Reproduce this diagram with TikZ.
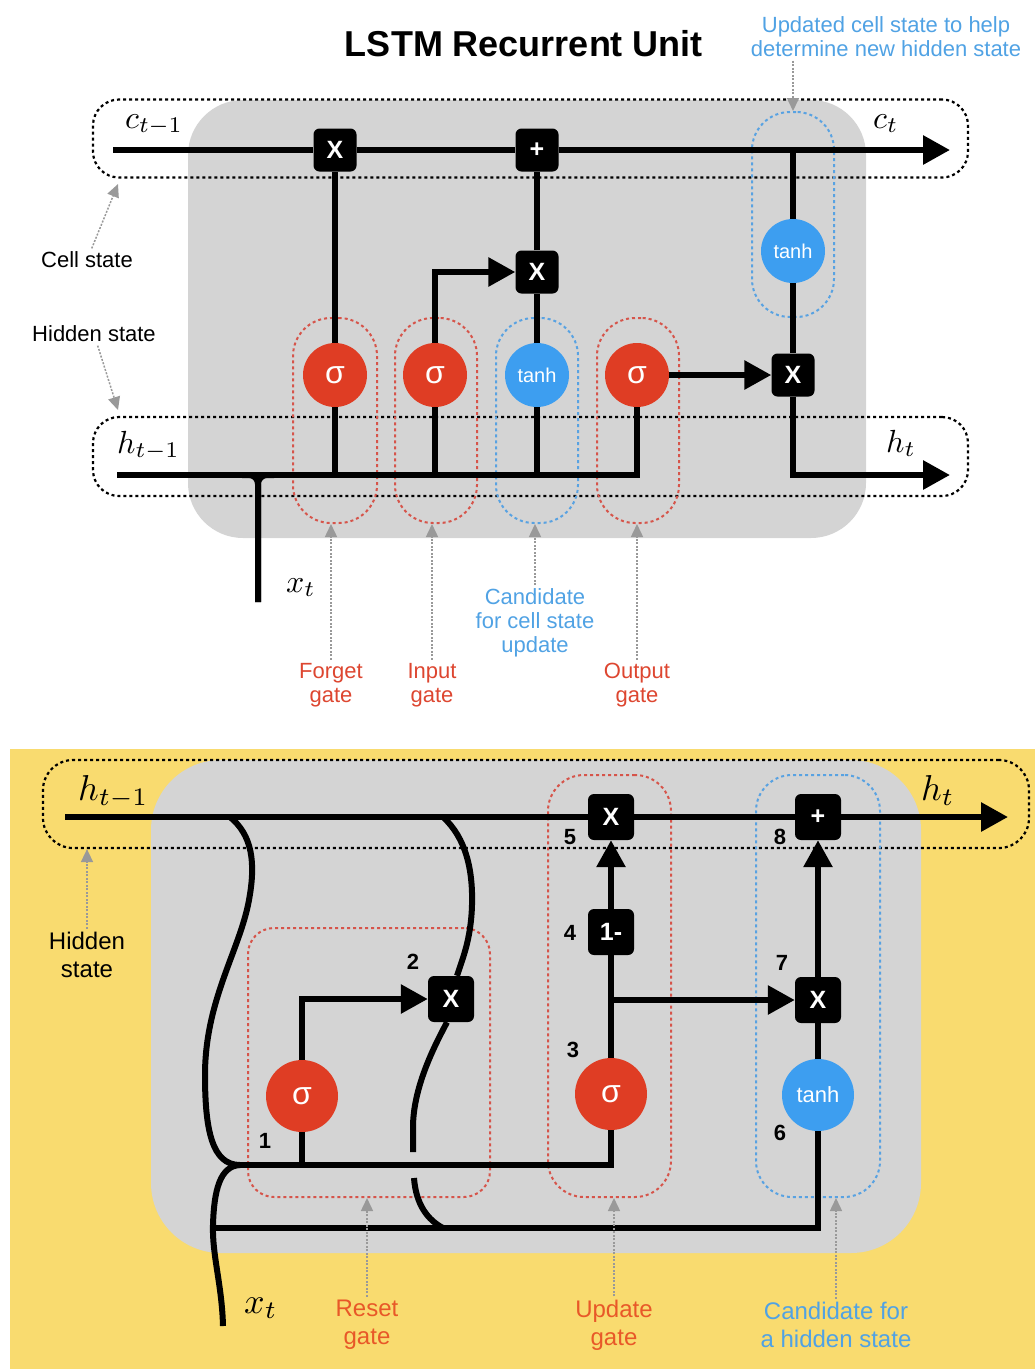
\documentclass[tikz,border=0pt]{standalone}
\usepackage{amsmath}
\usepackage{fontspec}
\newfontfamily\labfont{Liberation Sans}
\usetikzlibrary{shapes,arrows.meta,positioning}

\definecolor{unitgray}{RGB}{212,212,212}
\definecolor{gruyellow}{RGB}{249,219,111}
\definecolor{gatered}{RGB}{223,61,36}
\definecolor{cellblue}{RGB}{61,158,240}
\definecolor{notered}{RGB}{221,70,48}
\definecolor{noteorange}{RGB}{232,88,40}
\definecolor{noteblue}{RGB}{80,162,228}
\definecolor{boxred}{RGB}{214,84,74}
\definecolor{boxblue}{RGB}{88,162,226}

\newcommand{\bigmath}[2]{\scalebox{#1}{$#2$}}

\tikzset{
  wire/.style={line width=6pt},
  flow/.style={line width=6pt,-{Triangle[length=27pt,width=28pt]}},
  opbox/.style={fill=black,rounded corners=6pt,minimum size=43pt,inner sep=0pt,
    text=white,font=\labfont\bfseries\fontsize{25}{25}\selectfont},
  sig/.style={circle,fill=gatered,minimum size=64pt,inner sep=0pt,
    text=white,font=\labfont\fontsize{32}{32}\selectfont},
  tanhnode/.style={circle,fill=cellblue,minimum size=64pt,inner sep=0pt,
    text=white,font=\labfont\fontsize{20}{20}\selectfont},
  statebox/.style={draw,line width=2.2pt,dash pattern=on 3pt off 3pt,
    rounded corners=26pt,inner sep=0pt},
  gatebox/.style={line width=2pt,dash pattern=on 3pt off 3pt,inner sep=0pt},
  pointer/.style={draw=gray!80,line width=1.5pt,dash pattern=on 2pt off 1.5pt,
    -{Triangle[length=13pt,width=12pt]}},
  notelabel/.style={align=center,font=\labfont\fontsize{22}{24}\selectfont},
  grulabel/.style={align=center,font=\labfont\fontsize{24}{28}\selectfont},
  stepno/.style={font=\labfont\bfseries\fontsize{22}{22}\selectfont},
  sym/.style={inner sep=0pt,anchor=base west},
}

\begin{document}
\begin{tikzpicture}[x=1pt,y=-1pt]
  \useasboundingbox (0,0) rectangle (1035,1369);

  % LSTM unit
  \node[font=\labfont\bfseries\fontsize{36}{36}\selectfont] (lstmtitle) at (524,44) {LSTM Recurrent Unit};
  \fill[unitgray,rounded corners=55pt] (188,100) rectangle (866,538);

  % state bands and gate groups
  \node[statebox,minimum width=875pt,minimum height=78pt] (cbox) at (530.5,138.5) {};
  \node[statebox,minimum width=875pt,minimum height=79pt] (hbox) at (530.5,456.5) {};
  \node[gatebox,draw=boxred,rounded corners=38pt,minimum width=84pt,minimum height=205pt] (fgbox) at (335,420.5) {};
  \node[gatebox,draw=boxred,rounded corners=38pt,minimum width=82pt,minimum height=205pt] (igbox) at (436,420.5) {};
  \node[gatebox,draw=boxblue,rounded corners=38pt,minimum width=82pt,minimum height=205pt] (cgbox) at (537,420.5) {};
  \node[gatebox,draw=boxred,rounded corners=38pt,minimum width=82pt,minimum height=205pt] (ogbox) at (638,420.5) {};
  \node[gatebox,draw=boxblue,rounded corners=38pt,minimum width=82pt,minimum height=205pt] (ucbox) at (793,214.5) {};

  % operations
  \node[opbox] (fx) at (335,150) {X};
  \node[opbox] (cadd) at (537,150) {+};
  \node[opbox] (ix) at (537,272) {X};
  \node[opbox] (ox) at (793,375) {X};
  \node[sig] (fs) at (335,375) {σ};
  \node[sig] (is) at (435,375) {σ};
  \node[tanhnode] (ct) at (537,375) {tanh};
  \node[sig] (os) at (637,375) {σ};
  \node[tanhnode] (ht) at (793,251) {tanh};

  \coordinate (cin) at (113,150);
  \coordinate (cout) at (950,150);
  \coordinate (ctap) at (793,150);
  \coordinate (hin) at (117,475);
  \coordinate (hout) at (950,475);
  \coordinate (xin) at (258,602);
  \coordinate (xl) at (242,475);
  \coordinate (xr) at (274,475);

  % wires
  \draw[wire] (cin) -- (fx);
  \draw[wire] (fx) -- (cadd);
  \draw[flow] (cadd) -- (cout);
  \draw[wire] (fs) -- (fx);
  \draw[flow] (is) |- (ix);
  \draw[wire] (ct) -- (ix);
  \draw[wire] (ix) -- (cadd);
  \draw[wire] (ctap) -- (ht);
  \draw[wire] (ht) -- (ox);
  \draw[flow] (os) -- (ox);
  \draw[flow] (ox) |- (hout);
  \draw[wire] (hin) -| (os);
  \draw[wire] (fs) -- (fs |- hin);
  \draw[wire] (is) -- (is |- hin);
  \draw[wire] (ct) -- (ct |- hin);
  \draw[wire,rounded corners=9pt] (xl) -| (xin);
  \draw[wire,rounded corners=9pt] (xr) -| (xin);

  \node[sym] (cprev) at (125,128) {\bigmath{3.2}{c_{t-1}}};
  \node[sym] (cnext) at (873,128) {\bigmath{3.2}{c_t}};
  \node[sym] (hprev) at (117,453) {\bigmath{3.2}{h_{t-1}}};
  \node[sym] (hnext) at (886,452) {\bigmath{3.2}{h_t}};
  \node[sym] (xlab) at (286,592) {\bigmath{3.2}{x_t}};

  % annotations
  \node[notelabel] (cslab) at (87,260) {Cell state};
  \node[notelabel] (hslab) at (94,334) {Hidden state};
  \coordinate (csto) at (118,184);
  \coordinate (hsto) at (118,410);
  \draw[pointer] (cslab) -- (csto);
  \draw[pointer] (hslab) -- (hsto);
  \node[notelabel,text=noteblue] (uplab) at (886,37) {Updated cell state to help\\determine new hidden state};
  \draw[pointer] (uplab.south -| ucbox) -- (ucbox.north);
  \node[notelabel,text=notered] (fglab) at (331,685) {Forget\\gate};
  \node[notelabel,text=notered] (iglab) at (432,685) {Input\\gate};
  \node[notelabel,text=noteblue] (cglab) at (535,623) {Candidate\\for cell state\\update};
  \node[notelabel,text=notered] (oglab) at (637,685) {Output\\gate};
  \draw[pointer] (fglab.north) -- (fglab.north |- fgbox.south);
  \draw[pointer] (iglab.north) -- (iglab.north |- igbox.south);
  \draw[pointer] (cglab.north) -- (cglab.north |- cgbox.south);
  \draw[pointer] (oglab.north) -- (oglab.north |- ogbox.south);

  % GRU unit
  \fill[gruyellow] (10,749) rectangle (1035,1369);
  \fill[unitgray,rounded corners=70pt] (151,760) rectangle (921,1253);

  \node[statebox,rounded corners=30pt,minimum width=986pt,minimum height=88pt] (gbox) at (536,804) {};
  \node[gatebox,draw=boxred,rounded corners=26pt,minimum width=242pt,minimum height=269pt] (rgbox) at (369,1062.5) {};
  \node[gatebox,draw=boxred,rounded corners=36pt,minimum width=123pt,minimum height=422pt] (ugbox) at (609.5,986) {};
  \node[gatebox,draw=boxblue,rounded corners=36pt,minimum width=124pt,minimum height=422pt] (hcbox) at (818,986) {};

  \node[opbox,minimum size=46pt] (rx) at (451,999) {X};
  \node[opbox,minimum size=46pt] (ux) at (611,817) {X};
  \node[opbox,minimum size=46pt] (om) at (611,932) {1-};
  \node[opbox,minimum size=46pt] (cx) at (818,1000) {X};
  \node[opbox,minimum size=46pt] (hadd) at (818,817) {+};
  \node[sig,minimum size=72pt] (rs) at (302,1096) {σ};
  \node[sig,minimum size=72pt] (us) at (611,1094) {σ};
  \node[tanhnode,minimum size=72pt,font=\labfont\fontsize{22}{22}\selectfont] (hc) at (818,1095) {tanh};

  \coordinate (gin) at (65,817);
  \coordinate (gout) at (1008,817);
  \coordinate (rj) at (240,1165);
  \coordinate (bj) at (214,1228);
  \coordinate (gx) at (223,1326);
  \coordinate (ta) at (230,817);
  \coordinate (tb) at (443,817);
  \coordinate (hop) at (414,1178);
  \coordinate (bb) at (443,1228);

  \draw[wire] (gin) -- (ux);
  \draw[wire] (ux) -- (hadd);
  \draw[flow] (hadd) -- (gout);
  \draw[wire] (ta) .. controls (252,835) and (256,862) .. (249,900)
    .. controls (240,950) and (205,1000) .. (205,1075)
    .. controls (205,1130) and (212,1165) .. (rj);
  \draw[wire] (gx) .. controls (222,1285) and (212,1255) .. (213,1225)
    .. controls (214,1190) and (220,1166) .. (rj);
  \draw[wire] (bj) -| (hc);
  \draw[wire] (rj) -| (us);
  \draw[wire] (rs) -- (rs |- rj);
  \draw[flow] (rs) |- (rx);
  \draw[wire] (tb) .. controls (466,838) and (473,870) .. (472,905)
    .. controls (471,940) and (462,960) .. ([xshift=6pt]rx.north);
  \draw[wire] ([xshift=-4pt]rx.south) .. controls (435,1045) and (414,1085) .. (413,1125) -- (413,1152);
  \draw[wire] (hop) .. controls (416,1205) and (428,1220) .. (bb);
  \draw[wire] (us) -- (om);
  \draw[flow] (om) -- (ux);
  \draw[flow] (us |- cx) -- (cx);
  \draw[wire] (hc) -- (cx);
  \draw[flow] (cx) -- (hadd);

  \node[sym] (ghprev) at (78,800) {\bigmath{3.6}{h_{t-1}}};
  \node[sym] (ghnext) at (921,800) {\bigmath{3.6}{h_t}};
  \node[sym] (gxlab) at (244,1313) {\bigmath{3.6}{x_t}};

  % step numbers
  \node[stepno] (n1) at (265,1141) {1};
  \node[stepno] (n2) at (413,962) {2};
  \node[stepno] (n3) at (573,1050) {3};
  \node[stepno] (n4) at (570,933) {4};
  \node[stepno] (n5) at (570,837) {5};
  \node[stepno] (n6) at (780,1133) {6};
  \node[stepno] (n7) at (782,963) {7};
  \node[stepno] (n8) at (780,837) {8};

  \node[grulabel] (ghslab) at (87,955) {Hidden\\state};
  \draw[pointer] (ghslab) -- (ghslab |- gbox.south);
  \node[grulabel,text=noteorange] (rglab) at (367,1325) {Reset\\gate};
  \node[grulabel,text=noteorange] (uglab) at (614,1325) {Update\\gate};
  \node[grulabel,text=noteblue] (hclab) at (836,1325) {Candidate for\\a hidden state};
  \draw[pointer] (rglab.north) -- (rglab.north |- rgbox.south);
  \draw[pointer] (uglab.north) -- (uglab.north |- ugbox.south);
  \draw[pointer] (hclab.north) -- (hclab.north |- hcbox.south);
\end{tikzpicture}
\end{document}
